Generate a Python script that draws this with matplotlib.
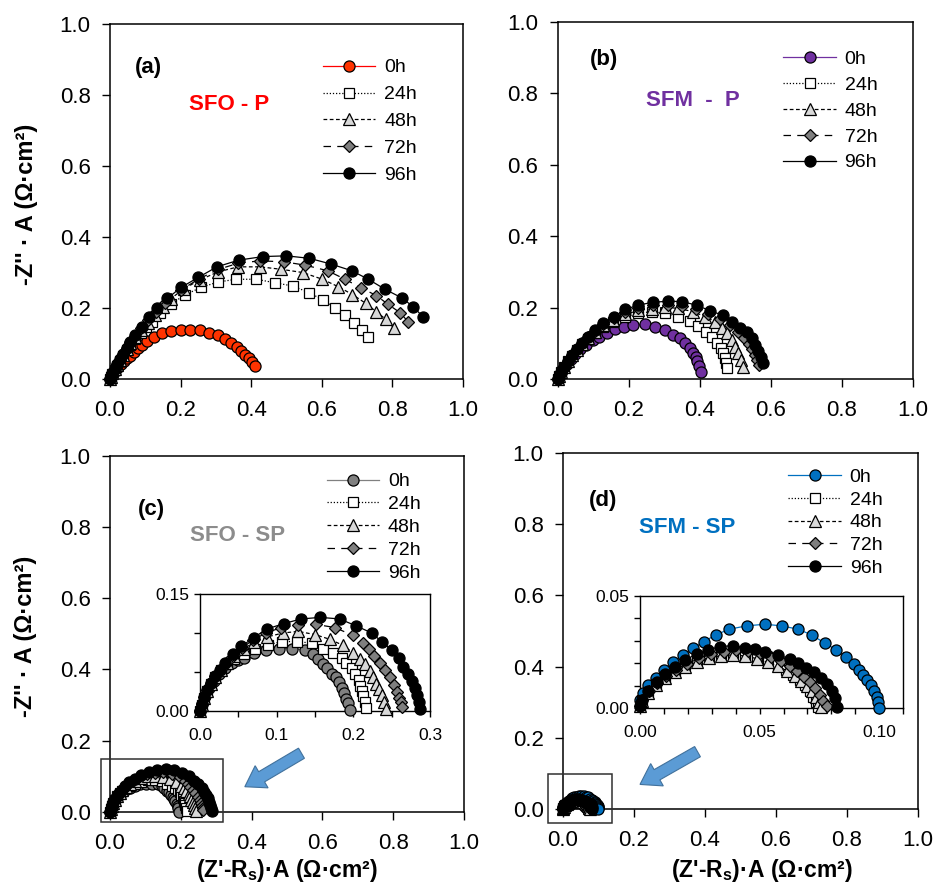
import matplotlib
matplotlib.use('Agg')
import matplotlib.pyplot as plt
from matplotlib.ticker import MultipleLocator, FormatStrFormatter
from matplotlib.patches import Rectangle, FancyArrow

plt.rcParams['font.family'] = ['Liberation Sans', 'DejaVu Sans']
plt.rcParams['mathtext.fontset'] = 'custom'
plt.rcParams['mathtext.rm'] = 'Liberation Sans:bold'
plt.rcParams['mathtext.bf'] = 'Liberation Sans:bold'
plt.rcParams['mathtext.it'] = 'Liberation Sans:bold'

#--------------------------------
# data: (Z'-Rs)*A and -Z''*A in ohm cm2
labels = ['0h', '24h', '48h', '72h', '96h']

# (a) SFO - P
sfo_p_0h_x = [0.000, 0.004, 0.009, 0.015, 0.022, 0.030, 0.039, 0.048, 0.057, 0.068, 0.080, 0.092, 0.105, 0.126, 0.148,
              0.174, 0.201, 0.228, 0.256, 0.281, 0.305, 0.325, 0.344, 0.359, 0.372, 0.383, 0.393, 0.402, 0.411]
sfo_p_0h_y = [0.000, 0.007, 0.015, 0.024, 0.033, 0.042, 0.050, 0.058, 0.066, 0.076, 0.086, 0.097, 0.107, 0.119, 0.129,
              0.136, 0.138, 0.138, 0.138, 0.131, 0.124, 0.114, 0.102, 0.091, 0.080, 0.069, 0.058, 0.048, 0.038]
sfo_p_24h_x = [0.000, 0.003, 0.007, 0.013, 0.020, 0.028, 0.037, 0.047, 0.058, 0.071, 0.087, 0.102, 0.119, 0.142, 0.174,
               0.212, 0.258, 0.305, 0.357, 0.415, 0.468, 0.518, 0.565, 0.603, 0.637, 0.666, 0.690, 0.714, 0.730]
sfo_p_24h_y = [0.000, 0.006, 0.015, 0.026, 0.038, 0.052, 0.066, 0.081, 0.097, 0.113, 0.130, 0.147, 0.162, 0.185, 0.212,
               0.237, 0.258, 0.273, 0.281, 0.281, 0.271, 0.262, 0.243, 0.223, 0.200, 0.180, 0.159, 0.139, 0.118]
sfo_p_48h_x = [0.000, 0.003, 0.007, 0.013, 0.020, 0.028, 0.037, 0.047, 0.058, 0.071, 0.088, 0.107, 0.128, 0.150, 0.172,
               0.209, 0.256, 0.307, 0.363, 0.425, 0.486, 0.546, 0.602, 0.647, 0.687, 0.725, 0.754, 0.782, 0.805]
sfo_p_48h_y = [0.000, 0.007, 0.016, 0.027, 0.040, 0.054, 0.069, 0.085, 0.101, 0.118, 0.138, 0.158, 0.180, 0.203, 0.226,
               0.254, 0.280, 0.302, 0.316, 0.316, 0.309, 0.300, 0.281, 0.260, 0.238, 0.213, 0.190, 0.168, 0.143]
sfo_p_72h_x = [0.000, 0.003, 0.007, 0.013, 0.020, 0.028, 0.037, 0.047, 0.058, 0.071, 0.089, 0.109, 0.131, 0.157, 0.200,
               0.252, 0.307, 0.363, 0.425, 0.494, 0.552, 0.617, 0.666, 0.711, 0.755, 0.787, 0.822, 0.845]
sfo_p_72h_y = [0.000, 0.007, 0.016, 0.027, 0.041, 0.055, 0.070, 0.086, 0.103, 0.121, 0.143, 0.166, 0.190, 0.214, 0.250,
               0.282, 0.309, 0.326, 0.333, 0.330, 0.321, 0.305, 0.281, 0.257, 0.235, 0.211, 0.187, 0.161]
sfo_p_96h_x = [0.000, 0.003, 0.007, 0.013, 0.020, 0.028, 0.037, 0.047, 0.058, 0.071, 0.090, 0.111, 0.134, 0.163, 0.201,
               0.250, 0.303, 0.365, 0.434, 0.500, 0.565, 0.626, 0.685, 0.732, 0.779, 0.826, 0.859, 0.886]
sfo_p_96h_y = [0.000, 0.007, 0.016, 0.028, 0.041, 0.056, 0.071, 0.088, 0.105, 0.124, 0.147, 0.174, 0.199, 0.227, 0.258,
               0.286, 0.316, 0.335, 0.345, 0.347, 0.340, 0.324, 0.305, 0.281, 0.253, 0.229, 0.204, 0.176]

# (b) SFM - P
sfm_p_0h_x = [0.000, 0.003, 0.008, 0.016, 0.026, 0.037, 0.050, 0.064, 0.080, 0.098, 0.117, 0.138, 0.161, 0.187, 0.213,
              0.246, 0.274, 0.302, 0.324, 0.344, 0.358, 0.372, 0.382, 0.388, 0.393, 0.399, 0.402]
sfm_p_0h_y = [0.000, 0.007, 0.017, 0.029, 0.042, 0.056, 0.070, 0.083, 0.096, 0.108, 0.118, 0.128, 0.139, 0.147, 0.151,
              0.153, 0.147, 0.137, 0.123, 0.114, 0.100, 0.088, 0.074, 0.062, 0.050, 0.036, 0.020]
sfm_p_24h_x = [0.000, 0.004, 0.010, 0.018, 0.028, 0.040, 0.053, 0.068, 0.085, 0.104, 0.127, 0.155, 0.190, 0.227, 0.265,
               0.302, 0.338, 0.372, 0.396, 0.417, 0.433, 0.447, 0.459, 0.466, 0.471, 0.473, 0.476]
sfm_p_24h_y = [0.000, 0.009, 0.021, 0.035, 0.050, 0.065, 0.081, 0.097, 0.113, 0.129, 0.145, 0.161, 0.175, 0.184, 0.189,
               0.184, 0.175, 0.163, 0.148, 0.133, 0.119, 0.102, 0.086, 0.072, 0.058, 0.046, 0.030]
sfm_p_48h_x = [0.000, 0.004, 0.010, 0.018, 0.028, 0.040, 0.053, 0.068, 0.085, 0.105, 0.128, 0.156, 0.190, 0.227, 0.265,
               0.302, 0.339, 0.380, 0.415, 0.443, 0.462, 0.476, 0.490, 0.499, 0.508, 0.515, 0.522]
sfm_p_48h_y = [0.000, 0.009, 0.021, 0.035, 0.050, 0.066, 0.082, 0.099, 0.116, 0.133, 0.150, 0.166, 0.181, 0.192, 0.197,
               0.201, 0.198, 0.189, 0.175, 0.161, 0.142, 0.128, 0.109, 0.091, 0.072, 0.053, 0.035]
sfm_p_72h_x = [0.000, 0.004, 0.010, 0.018, 0.028, 0.040, 0.053, 0.068, 0.085, 0.105, 0.128, 0.157, 0.189, 0.227, 0.267,
               0.309, 0.349, 0.388, 0.424, 0.457, 0.484, 0.506, 0.524, 0.538, 0.548, 0.556, 0.562, 0.567]
sfm_p_72h_y = [0.000, 0.009, 0.021, 0.035, 0.050, 0.066, 0.083, 0.100, 0.117, 0.135, 0.153, 0.170, 0.187, 0.199, 0.206,
               0.208, 0.205, 0.196, 0.182, 0.167, 0.150, 0.133, 0.116, 0.099, 0.083, 0.068, 0.054, 0.040]
sfm_p_96h_x = [0.000, 0.004, 0.010, 0.018, 0.028, 0.040, 0.053, 0.068, 0.085, 0.105, 0.128, 0.157, 0.189, 0.227, 0.267,
               0.311, 0.349, 0.391, 0.429, 0.464, 0.490, 0.513, 0.532, 0.546, 0.555, 0.565, 0.571, 0.577]
sfm_p_96h_y = [0.000, 0.009, 0.021, 0.035, 0.050, 0.066, 0.083, 0.100, 0.118, 0.137, 0.156, 0.173, 0.195, 0.207, 0.215,
               0.218, 0.217, 0.207, 0.191, 0.179, 0.161, 0.142, 0.131, 0.114, 0.095, 0.078, 0.063, 0.046]

# (c) SFO - SP
sfo_sp_0h_x = [0.000, 0.003, 0.007, 0.012, 0.018, 0.025, 0.033, 0.042, 0.050, 0.057, 0.070, 0.086, 0.103, 0.120, 0.137,
               0.147, 0.154, 0.161, 0.166, 0.172, 0.177, 0.181, 0.185, 0.188, 0.191, 0.193, 0.195]
sfo_sp_0h_y = [0.000, 0.009, 0.019, 0.029, 0.038, 0.047, 0.055, 0.062, 0.066, 0.068, 0.074, 0.078, 0.080, 0.080, 0.078,
               0.073, 0.067, 0.060, 0.055, 0.048, 0.043, 0.037, 0.030, 0.023, 0.016, 0.010, 0.001]
sfo_sp_24h_x = [0.000, 0.002, 0.005, 0.009, 0.014, 0.020, 0.027, 0.035, 0.045, 0.057, 0.072, 0.089, 0.107, 0.126, 0.146,
                0.161, 0.174, 0.185, 0.191, 0.198, 0.202, 0.207, 0.209, 0.211, 0.213, 0.215, 0.217]
sfo_sp_24h_y = [0.000, 0.008, 0.017, 0.026, 0.035, 0.044, 0.052, 0.060, 0.067, 0.073, 0.080, 0.085, 0.089, 0.089, 0.087,
                0.080, 0.074, 0.068, 0.061, 0.055, 0.047, 0.040, 0.032, 0.026, 0.019, 0.012, 0.004]
sfo_sp_48h_x = [0.000, 0.002, 0.005, 0.009, 0.014, 0.020, 0.027, 0.035, 0.045, 0.057, 0.071, 0.088, 0.108, 0.128, 0.150,
                0.169, 0.187, 0.200, 0.209, 0.215, 0.222, 0.226, 0.230, 0.234, 0.237, 0.240, 0.243]
sfo_sp_48h_y = [0.000, 0.008, 0.017, 0.026, 0.035, 0.044, 0.053, 0.062, 0.071, 0.080, 0.088, 0.095, 0.100, 0.102, 0.098,
                0.092, 0.084, 0.074, 0.067, 0.060, 0.051, 0.044, 0.035, 0.028, 0.021, 0.012, 0.003]
sfo_sp_72h_x = [0.000, 0.002, 0.005, 0.009, 0.014, 0.020, 0.027, 0.035, 0.044, 0.055, 0.069, 0.086, 0.106, 0.128, 0.151,
                0.176, 0.199, 0.213, 0.221, 0.227, 0.235, 0.241, 0.248, 0.253, 0.257, 0.260, 0.262, 0.263]
sfo_sp_72h_y = [0.000, 0.009, 0.018, 0.027, 0.036, 0.045, 0.054, 0.063, 0.072, 0.081, 0.091, 0.100, 0.107, 0.110, 0.111,
                0.107, 0.097, 0.087, 0.079, 0.070, 0.061, 0.053, 0.043, 0.033, 0.024, 0.017, 0.011, 0.005]
sfo_sp_96h_x = [0.000, 0.002, 0.005, 0.009, 0.014, 0.020, 0.026, 0.033, 0.043, 0.054, 0.070, 0.087, 0.109, 0.132, 0.157,
                0.182, 0.204, 0.224, 0.238, 0.250, 0.259, 0.265, 0.271, 0.276, 0.280, 0.283, 0.285, 0.287]
sfo_sp_96h_y = [0.000, 0.009, 0.018, 0.027, 0.036, 0.045, 0.053, 0.062, 0.073, 0.083, 0.094, 0.105, 0.112, 0.118, 0.120,
                0.118, 0.109, 0.100, 0.088, 0.078, 0.068, 0.057, 0.047, 0.038, 0.029, 0.021, 0.012, 0.003]

# (d) SFM - SP
sfm_sp_0h_x = [0.0000, 0.0011, 0.0035, 0.0067, 0.0102, 0.0136, 0.0178, 0.0220, 0.0267, 0.0317, 0.0373, 0.0446, 0.0522,
               0.0592, 0.0661, 0.0717, 0.0773, 0.0821, 0.0860, 0.0894, 0.0916, 0.0933, 0.0950, 0.0965, 0.0979, 0.0989,
               0.0996, 0.0999]
sfm_sp_0h_y = [0.0037, 0.0067, 0.0104, 0.0136, 0.0170, 0.0204, 0.0237, 0.0266, 0.0296, 0.0326, 0.0351, 0.0366, 0.0373,
               0.0366, 0.0351, 0.0326, 0.0289, 0.0259, 0.0229, 0.0195, 0.0170, 0.0148, 0.0126, 0.0104, 0.0077, 0.0052,
               0.0030, 0.0000]
sfm_sp_24h_x = [0.0000, 0.0010, 0.0035, 0.0068, 0.0105, 0.0145, 0.0190, 0.0240, 0.0290, 0.0340, 0.0390, 0.0440, 0.0490,
                0.0535, 0.0575, 0.0610, 0.0640, 0.0668, 0.0690, 0.0710, 0.0725, 0.0737, 0.0745]
sfm_sp_24h_y = [0.0008, 0.0035, 0.0072, 0.0107, 0.0138, 0.0165, 0.0190, 0.0213, 0.0230, 0.0240, 0.0244, 0.0238, 0.0226,
                0.0209, 0.0190, 0.0170, 0.0149, 0.0126, 0.0102, 0.0077, 0.0052, 0.0028, 0.0004]
sfm_sp_48h_x = [0.0000, 0.0010, 0.0035, 0.0068, 0.0105, 0.0145, 0.0190, 0.0240, 0.0290, 0.0340, 0.0390, 0.0440, 0.0490,
                0.0535, 0.0578, 0.0615, 0.0647, 0.0675, 0.0698, 0.0718, 0.0735, 0.0747, 0.0757]
sfm_sp_48h_y = [0.0008, 0.0034, 0.0070, 0.0103, 0.0133, 0.0160, 0.0185, 0.0207, 0.0224, 0.0234, 0.0237, 0.0232, 0.0220,
                0.0204, 0.0186, 0.0166, 0.0145, 0.0123, 0.0100, 0.0076, 0.0052, 0.0028, 0.0004]
sfm_sp_72h_x = [0.0000, 0.0010, 0.0036, 0.0070, 0.0108, 0.0150, 0.0196, 0.0247, 0.0298, 0.0350, 0.0402, 0.0452, 0.0500,
                0.0546, 0.0588, 0.0625, 0.0658, 0.0687, 0.0712, 0.0733, 0.0752, 0.0767, 0.0780]
sfm_sp_72h_y = [0.0009, 0.0037, 0.0075, 0.0111, 0.0143, 0.0172, 0.0198, 0.0221, 0.0240, 0.0252, 0.0257, 0.0254, 0.0244,
                0.0229, 0.0210, 0.0189, 0.0166, 0.0141, 0.0115, 0.0088, 0.0061, 0.0034, 0.0008]
sfm_sp_96h_x = [0.0000, 0.0007, 0.0035, 0.0070, 0.0104, 0.0146, 0.0188, 0.0237, 0.0285, 0.0334, 0.0390, 0.0439, 0.0480,
                0.0522, 0.0578, 0.0627, 0.0661, 0.0693, 0.0727, 0.0755, 0.0780, 0.0801, 0.0815, 0.0824]
sfm_sp_96h_y = [0.0010, 0.0037, 0.0077, 0.0115, 0.0151, 0.0185, 0.0215, 0.0240, 0.0259, 0.0274, 0.0278, 0.0269, 0.0263,
                0.0252, 0.0237, 0.0219, 0.0200, 0.0181, 0.0160, 0.0136, 0.0107, 0.0077, 0.0044, 0.0007]

#--------------------------------
# figure outline

fig = plt.figure(figsize=(9.35, 8.86), dpi=100)

ax_a = fig.add_axes([0.1176, 0.5722, 0.3775, 0.4007])
ax_b = fig.add_axes([0.5965, 0.5722, 0.3800, 0.4029])
ax_c = fig.add_axes([0.1176, 0.0835, 0.3786, 0.4022])
ax_d = fig.add_axes([0.6021, 0.0869, 0.3797, 0.4021])
in_c = fig.add_axes([0.2139, 0.1975, 0.2460, 0.1321])
in_d = fig.add_axes([0.6845, 0.2006, 0.2814, 0.1271])


def draw_series(ax, xs, ys, c0, lc0):
    mfcs = [c0, 'white', '#D9D9D9', '#7F7F7F', 'black']
    mks = ['o', 's', '^', 'D', 'o']
    mss = [8, 7.5, 8, 6, 8]
    lss = ['-', (0, (1, 1.5)), (0, (3, 2)), (0, (6, 5)), '-']
    lcs = [lc0, 'black', 'black', 'black', 'black']
    for i in range(5):
        ax.plot(xs[i], ys[i], marker=mks[i], ms=mss[i], mfc=mfcs[i], mec='black', mew=0.9,
                ls=lss[i], color=lcs[i], lw=0.9, label=labels[i], clip_on=False, zorder=3 + i)


def style_main(ax):
    ax.set_xlim(0, 1)
    ax.set_ylim(0, 1)
    ax.xaxis.set_major_locator(MultipleLocator(0.2))
    ax.yaxis.set_major_locator(MultipleLocator(0.2))
    ax.xaxis.set_major_formatter(FormatStrFormatter('%.1f'))
    ax.yaxis.set_major_formatter(FormatStrFormatter('%.1f'))
    ax.tick_params(direction='out', length=6, width=1, labelsize=16)
    ax.tick_params(axis='x', pad=9)
    ax.tick_params(axis='y', pad=8)
    for s in ax.spines.values():
        s.set_linewidth(1.1)


def legend(ax, x, y, spacing):
    ax.legend(loc='upper left', bbox_to_anchor=(x, y), frameon=False, fontsize=14,
              handlelength=2.7, handletextpad=0.45, labelspacing=spacing, borderpad=0,
              borderaxespad=0)


ylab = "-Z'' · A (Ω·cm²)"
xlab = "(Z'-R$_s$)·A (Ω·cm²)"

#--------------------------------
# (a)
draw_series(ax_a, [sfo_p_0h_x, sfo_p_24h_x, sfo_p_48h_x, sfo_p_72h_x, sfo_p_96h_x],
            [sfo_p_0h_y, sfo_p_24h_y, sfo_p_48h_y, sfo_p_72h_y, sfo_p_96h_y], '#FF3300', '#FF0000')
style_main(ax_a)
legend(ax_a, 0.603, 0.902, 0.48)
ax_a.text(0.071, 0.877, '(a)', fontsize=16, fontweight='bold', va='center', transform=ax_a.transAxes)
ax_a.text(0.225, 0.774, 'SFO - P', fontsize=16, fontweight='bold', color='#FF0000', va='center',
          transform=ax_a.transAxes)
ax_a.set_ylabel(ylab, fontsize=17, fontweight='bold')
ax_a.yaxis.set_label_coords(-0.205, 0.493)

# (b)
draw_series(ax_b, [sfm_p_0h_x, sfm_p_24h_x, sfm_p_48h_x, sfm_p_72h_x, sfm_p_96h_x],
            [sfm_p_0h_y, sfm_p_24h_y, sfm_p_48h_y, sfm_p_72h_y, sfm_p_96h_y], '#7030A0', '#7030A0')
style_main(ax_b)
legend(ax_b, 0.635, 0.92, 0.42)
ax_b.text(0.091, 0.894, '(b)', fontsize=16, fontweight='bold', va='center', transform=ax_b.transAxes)
ax_b.text(0.249, 0.781, 'SFM  -  P', fontsize=16, fontweight='bold', color='#7030A0', va='center',
          transform=ax_b.transAxes)

# (c)
c_xs = [sfo_sp_0h_x, sfo_sp_24h_x, sfo_sp_48h_x, sfo_sp_72h_x, sfo_sp_96h_x]
c_ys = [sfo_sp_0h_y, sfo_sp_24h_y, sfo_sp_48h_y, sfo_sp_72h_y, sfo_sp_96h_y]
draw_series(ax_c, c_xs, c_ys, '#808080', '#808080')
style_main(ax_c)
legend(ax_c, 0.612, 0.952, 0.27)
ax_c.text(0.080, 0.848, '(c)', fontsize=16, fontweight='bold', va='center', transform=ax_c.transAxes)
ax_c.text(0.226, 0.777, 'SFO - SP', fontsize=16, fontweight='bold', color='#8C8C8C', va='center',
          transform=ax_c.transAxes)
ax_c.set_ylabel(ylab, fontsize=17, fontweight='bold')
ax_c.yaxis.set_label_coords(-0.205, 0.492)
ax_c.set_xlabel(xlab, fontsize=16.5, fontweight='bold')
ax_c.xaxis.set_label_coords(0.5, -0.127)
ax_c.add_patch(Rectangle((-0.026, -0.027), 0.346, 0.176, fill=False, ec='#303030', lw=1.1,
                         clip_on=False, zorder=10))
ax_c.add_patch(FancyArrow(0.541, 0.165, 0.381 - 0.541, 0.071 - 0.165, width=0.033, head_width=0.072,
                          head_length=0.055, length_includes_head=True, fc='#5B9BD5', ec='#41719C',
                          lw=0.8, zorder=10))

# (d)
d_xs = [sfm_sp_0h_x, sfm_sp_24h_x, sfm_sp_48h_x, sfm_sp_72h_x, sfm_sp_96h_x]
d_ys = [sfm_sp_0h_y, sfm_sp_24h_y, sfm_sp_48h_y, sfm_sp_72h_y, sfm_sp_96h_y]
draw_series(ax_d, d_xs, d_ys, '#0070C0', '#0070C0')
style_main(ax_d)
legend(ax_d, 0.635, 0.956, 0.26)
ax_d.text(0.074, 0.867, '(d)', fontsize=16, fontweight='bold', va='center', transform=ax_d.transAxes)
ax_d.text(0.215, 0.791, 'SFM - SP', fontsize=16, fontweight='bold', color='#0070C0', va='center',
          transform=ax_d.transAxes)
ax_d.set_xlabel(xlab, fontsize=16.5, fontweight='bold')
ax_d.xaxis.set_label_coords(0.561, -0.135)
ax_d.add_patch(Rectangle((-0.041, -0.040), 0.178, 0.137, fill=False, ec='#303030', lw=1.1,
                         clip_on=False, zorder=10))
ax_d.add_patch(FancyArrow(0.379, 0.161, 0.217 - 0.379, 0.069 - 0.161, width=0.033, head_width=0.072,
                          head_length=0.055, length_includes_head=True, fc='#5B9BD5', ec='#41719C',
                          lw=0.8, zorder=10))

#--------------------------------
# insets
draw_series(in_c, c_xs, c_ys, '#808080', '#808080')
in_c.set_xlim(0, 0.3)
in_c.set_ylim(0, 0.15)
in_c.xaxis.set_major_locator(MultipleLocator(0.1))
in_c.xaxis.set_minor_locator(MultipleLocator(0.05))
in_c.yaxis.set_major_locator(MultipleLocator(0.15))
in_c.yaxis.set_minor_locator(MultipleLocator(0.05))
in_c.xaxis.set_major_formatter(FormatStrFormatter('%.1f'))
in_c.yaxis.set_major_formatter(FormatStrFormatter('%.2f'))

draw_series(in_d, d_xs, d_ys, '#0070C0', '#0070C0')
in_d.set_xlim(0, 0.11)
in_d.set_ylim(0, 0.05)
in_d.xaxis.set_major_locator(MultipleLocator(0.05))
in_d.xaxis.set_minor_locator(MultipleLocator(0.01))
in_d.yaxis.set_major_locator(MultipleLocator(0.05))
in_d.yaxis.set_minor_locator(MultipleLocator(0.01))
in_d.xaxis.set_major_formatter(FormatStrFormatter('%.2f'))
in_d.yaxis.set_major_formatter(FormatStrFormatter('%.2f'))

for ax in (in_c, in_d):
    ax.tick_params(which='both', direction='out', length=4, width=1, labelsize=12.5)
    ax.tick_params(axis='x', which='major', pad=8)
    for s in ax.spines.values():
        s.set_linewidth(1.0)
    ax.set_zorder(20)

fig.savefig('out.png', dpi=100, facecolor='white')
